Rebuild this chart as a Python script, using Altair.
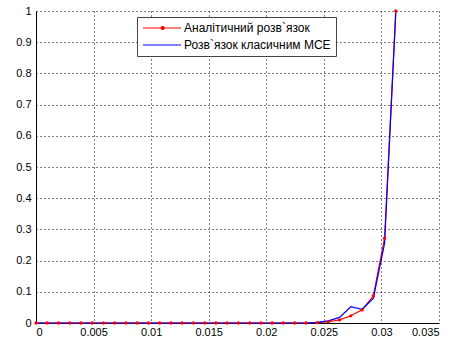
import altair as alt
import pandas as pd

# Data
x_vals = [0, 0.0009766, 0.0019531, 0.0029297, 0.0039063, 0.0048828, 0.0058594,
          0.0068359, 0.0078125, 0.0087891, 0.0097656, 0.0107422, 0.0117188,
          0.0126953, 0.0136719, 0.0146484, 0.015625, 0.0166016, 0.0175781,
          0.0185547, 0.0195313, 0.0205078, 0.0214844, 0.0224609, 0.0234375,
          0.0244141, 0.0253906, 0.0263672, 0.0273438, 0.0283203, 0.0292969,
          0.0302734, 0.03125]
analytic = [0, 0, 0, 0, 0, 0, 0, 0, 0, 0, 0, 0, 0, 0, 0, 0, 0, 0, 0, 0, 0, 0, 0,
            0, 0, 0.001, 0.004, 0.010, 0.023, 0.042, 0.087, 0.272, 1.0]
classic = [0, 0, 0, 0, 0, 0, 0, 0, 0, 0, 0, 0, 0, 0, 0, 0, 0, 0, 0, 0, 0, 0, 0,
           0, 0, 0.002, 0.007, 0.018, 0.052, 0.044, 0.079, 0.255, 1.0]
series_names = ["Аналітичний розв`язок", "Розв`язок класичним МСЕ"]
series_colors = ["#ff0000", "#0000ff"]
x_ticks = [0, 0.005, 0.01, 0.015, 0.02, 0.025, 0.03, 0.035]
y_ticks = [0, 0.1, 0.2, 0.3, 0.4, 0.5, 0.6, 0.7, 0.8, 0.9, 1]

df = pd.concat([
    pd.DataFrame({"x": x_vals, "y": analytic, "s": series_names[0], "o": 0}),
    pd.DataFrame({"x": x_vals, "y": classic, "s": series_names[1], "o": 1}),
], ignore_index=True)
df_pts = df[df["s"] == series_names[0]]

FONT = "Liberation Sans"

xenc = alt.X("x:Q", scale=alt.Scale(domain=[0, 0.035], nice=False, zero=False),
             axis=alt.Axis(values=x_ticks, title=None, labelOverlap=False,
                           labelExpr="toString(datum.value)"))
yenc = alt.Y("y:Q", scale=alt.Scale(domain=[0, 1], nice=False),
             axis=alt.Axis(values=y_ticks, title=None, labelOverlap=False,
                           labelExpr="toString(datum.value)"))

line_path = "M-1,0H6.6"
dot_path = "M-1,0H6.6M2.64,0a0.3,0.3 0 1,0 0.6,0a0.3,0.3 0 1,0 -0.6,0"

legend = alt.Legend(
    title=None, orient="none", legendX=101, legendY=6,
    fillColor="white", strokeColor="#444444", padding=5, rowPadding=5,
    symbolSize=100, symbolStrokeWidth=1.2, labelFont=FONT, labelFontSize=12,
    labelColor="black", labelOffset=30, labelLimit=0,
    symbolType=alt.ExprRef(expr=f"datum.index === 0 ? '{dot_path}' : '{line_path}'"),
    symbolFillColor=alt.ExprRef(expr="datum.index === 0 ? '#ff0000' : 'transparent'"),
)

lines = alt.Chart(df).mark_line(strokeWidth=1.2).encode(
    x=xenc, y=yenc,
    color=alt.Color("s:N", scale=alt.Scale(domain=series_names, range=series_colors),
                    sort=series_names, legend=legend),
    order=alt.Order("o:Q"),
)
pts = alt.Chart(df_pts).mark_point(filled=True, size=11, opacity=1, color="#ff0000").encode(
    x=xenc, y=yenc
)

chart = alt.layer(lines, pts).properties(
    width=403, height=312,
    autosize=alt.AutoSizeParams(type="none"),
    padding={"left": 36, "top": 11, "right": 22, "bottom": 19},
    background="white",
).configure_view(stroke=None).configure_axis(
    grid=True, gridColor="black", gridDash=[1, 3], gridOpacity=1, gridWidth=1,
    domainColor="black", domainWidth=1, ticks=False, tickSize=0,
    labelFont=FONT, labelFontSize=11, labelColor="black",
).configure_axisX(labelPadding=3).configure_axisY(labelPadding=5)

chart.save("out.html", embed_options={"renderer": "svg", "actions": False})
